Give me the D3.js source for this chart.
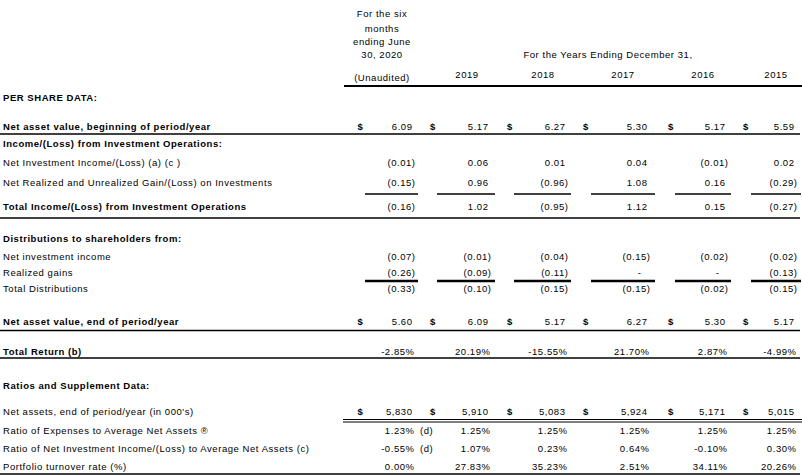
<!DOCTYPE html>
<html><head><meta charset="utf-8">
<script src="https://cdn.jsdelivr.net/npm/d3@7"></script>
<style>
html,body{margin:0;padding:0;background:#fff;}
text{font-family:"Liberation Sans",Arial,sans-serif;font-size:9.5px;letter-spacing:0.55px;fill:#000;}
.b{font-weight:bold;}
</style></head>
<body><svg id="c" width="802" height="476"></svg>
<script>
// ---- data ----
const columns = ["2020H1", "2019", "2018", "2017", "2016", "2015"];
const periodHeader = ["For the six", "months", "ending June", "30, 2020", "(Unaudited)"];
const yearsHeader = "For the Years Ending December 31,";
const yearLabels = ["2019", "2018", "2017", "2016", "2015"];

const navBegin      = [6.09, 5.17, 6.27, 5.30, 5.17, 5.59];
const netInvIncome  = [-0.01, 0.06, 0.01, 0.04, -0.01, 0.02];
const netRealized   = [-0.15, 0.96, -0.96, 1.08, 0.16, -0.29];
const totalIncome   = [-0.16, 1.02, -0.95, 1.12, 0.15, -0.27];
const distNII       = [-0.07, -0.01, -0.04, -0.15, -0.02, -0.02];
const distGains     = [-0.26, -0.09, -0.11, 0, 0, -0.13];
const totalDist     = [-0.33, -0.10, -0.15, -0.15, -0.02, -0.15];
const navEnd        = [5.60, 6.09, 5.17, 6.27, 5.30, 5.17];
const totalReturn   = [-2.85, 20.19, -15.55, 21.70, 2.87, -4.99];
const netAssets     = [5830, 5910, 5083, 5924, 5171, 5015];
const expenseRatio  = [1.23, 1.25, 1.25, 1.25, 1.25, 1.25];
const niiRatio      = [-0.55, 1.07, 0.23, 0.64, -0.10, 0.30];
const turnover      = [0.00, 27.83, 35.23, 2.51, 34.11, 20.26];
const notes         = {expense: ["(d)", "", "", "", "", ""], nii: ["(d)", "", "", "", "", ""]};

// ---- formats ----
const f2 = v => Math.abs(v).toFixed(2);
const perShare = v => v === 0 ? "-" : v < 0 ? "(" + f2(v) + ")" : f2(v);
const pct = v => (v < 0 ? "-" : "") + f2(v) + "%";
const thousands = d3.format(",");

// ---- layout ----
const rowsSpec = [
  {id:"psd",  label:"PER SHARE DATA:", bold:true},
  {id:"navB", label:"Net asset value, beginning of period/year", bold:true, vals:navBegin, fmt:perShare, dollar:true},
  {id:"inc",  label:"Income/(Loss) from Investment Operations:", bold:true},
  {id:"nii",  label:"Net Investment Income/(Loss) (a) (c )", vals:netInvIncome, fmt:perShare},
  {id:"nr",   label:"Net Realized and Unrealized Gain/(Loss) on Investments", vals:netRealized, fmt:perShare},
  {id:"ti",   label:"Total Income/(Loss) from Investment Operations", bold:true, vals:totalIncome, fmt:perShare},
  {id:"dist", label:"Distributions to shareholders from:", bold:true},
  {id:"dnii", label:"Net investment income", vals:distNII, fmt:perShare},
  {id:"dg",   label:"Realized gains", vals:distGains, fmt:perShare},
  {id:"td",   label:"Total Distributions", vals:totalDist, fmt:perShare},
  {id:"navE", label:"Net asset value, end of period/year", bold:true, vals:navEnd, fmt:perShare, dollar:true},
  {id:"tr",   label:"Total Return (b)", bold:true, vals:totalReturn, fmt:pct},
  {id:"rsd",  label:"Ratios and Supplement Data:", bold:true},
  {id:"na",   label:"Net assets, end of period/year (in 000's)", vals:netAssets, fmt:thousands, dollar:true},
  {id:"er",   label:"Ratio of Expenses to Average Net Assets \u00AE", vals:expenseRatio, fmt:pct, note:notes.expense},
  {id:"nir",  label:"Ratio of Net Investment Income/(Loss) to Average Net Assets (c)", vals:niiRatio, fmt:pct, note:notes.nii},
  {id:"to",   label:"Portfolio turnover rate (%)", vals:turnover, fmt:pct}
];
const rowCenter = d3.scaleOrdinal().domain(rowsSpec.map(r => r.id))
  .range([98, 127, 144, 163, 182.5, 206.5, 238.5, 256.5, 272.5, 289, 322, 351.5, 386, 412, 431, 449, 466.5]);
const base = id => rowCenter(id) + 3.4;

const xRight  = d3.scaleOrdinal().domain(columns).range([415, 491, 568, 650, 728, 797]);
const xDollar = d3.scaleOrdinal().domain(columns).range([357.5, 430, 507, 583, 668, 743]);
const segL    = d3.scaleOrdinal().domain(columns).range([365, 437, 514, 591, 675, 751]);
const segR    = d3.scaleOrdinal().domain(columns).range([418, 495, 571, 655, 731, 801]);
const yearX   = d3.scaleOrdinal().domain(yearLabels).range([467, 543, 623, 703, 776]);

const svg = d3.select("#c");

// header
svg.append("g").selectAll("text").data(periodHeader).join("text")
  .attr("x", 382).attr("y", (d, i) => [14, 28.5, 42, 54.5, 78][i] + 3.4)
  .attr("text-anchor", "middle").text(d => d);
svg.append("text").attr("x", 608).attr("y", 55 + 3.4).attr("text-anchor", "middle").text(yearsHeader);
svg.append("g").selectAll("text").data(yearLabels).join("text")
  .attr("x", d => yearX(d)).attr("y", 75 + 3.4).attr("text-anchor", "middle").text(d => d);

// row labels
svg.append("g").selectAll("text").data(rowsSpec).join("text")
  .attr("class", d => d.bold ? "b" : null)
  .attr("x", 3).attr("y", d => base(d.id)).text(d => d.label);

// values
const cells = [];
rowsSpec.filter(r => r.vals).forEach(r => r.vals.forEach((v, i) => {
  const s = r.fmt(v);
  cells.push({row: r, col: columns[i], text: s, note: r.note ? r.note[i] : ""});
}));
const adj = s => s === "-" ? -9 : s.endsWith(")") ? 0 : s.endsWith("%") ? -1 : -3;
svg.append("g").selectAll("text").data(cells).join("text")
  .attr("x", d => xRight(d.col) + adj(d.text) + 0.55)
  .attr("y", d => base(d.row.id)).attr("text-anchor", "end").text(d => d.text);
svg.append("g").selectAll("text").data(cells.filter(d => d.row.dollar)).join("text")
  .attr("class", "b").attr("x", d => xDollar(d.col)).attr("y", d => base(d.row.id)).text("$");
svg.append("g").selectAll("text").data(cells.filter(d => d.note)).join("text")
  .attr("x", d => xRight(d.col) + 5).attr("y", d => base(d.row.id)).text(d => d.note);

// rules
const lines = svg.append("g").attr("stroke", "#000").attr("fill", "none");
lines.append("line").attr("x1", 344).attr("x2", 802).attr("y1", 86).attr("y2", 86).attr("stroke-width", 2);
[134, 218, 330.5, 358, 474].forEach(y =>
  lines.append("line").attr("x1", 0).attr("x2", 800).attr("y1", y).attr("y2", y).attr("stroke-width", 1.4));
columns.forEach(c => {
  lines.append("line").attr("x1", segL(c)).attr("x2", segR(c)).attr("y1", 194).attr("y2", 194).attr("stroke-width", 1.3);
  lines.append("line").attr("x1", segL(c)).attr("x2", segR(c)).attr("y1", 281).attr("y2", 281).attr("stroke-width", 2.4);
});
[419.5, 422].forEach(y =>
  lines.append("line").attr("x1", 343).attr("x2", 802).attr("y1", y).attr("y2", y).attr("stroke-width", 1));
</script></body></html>
